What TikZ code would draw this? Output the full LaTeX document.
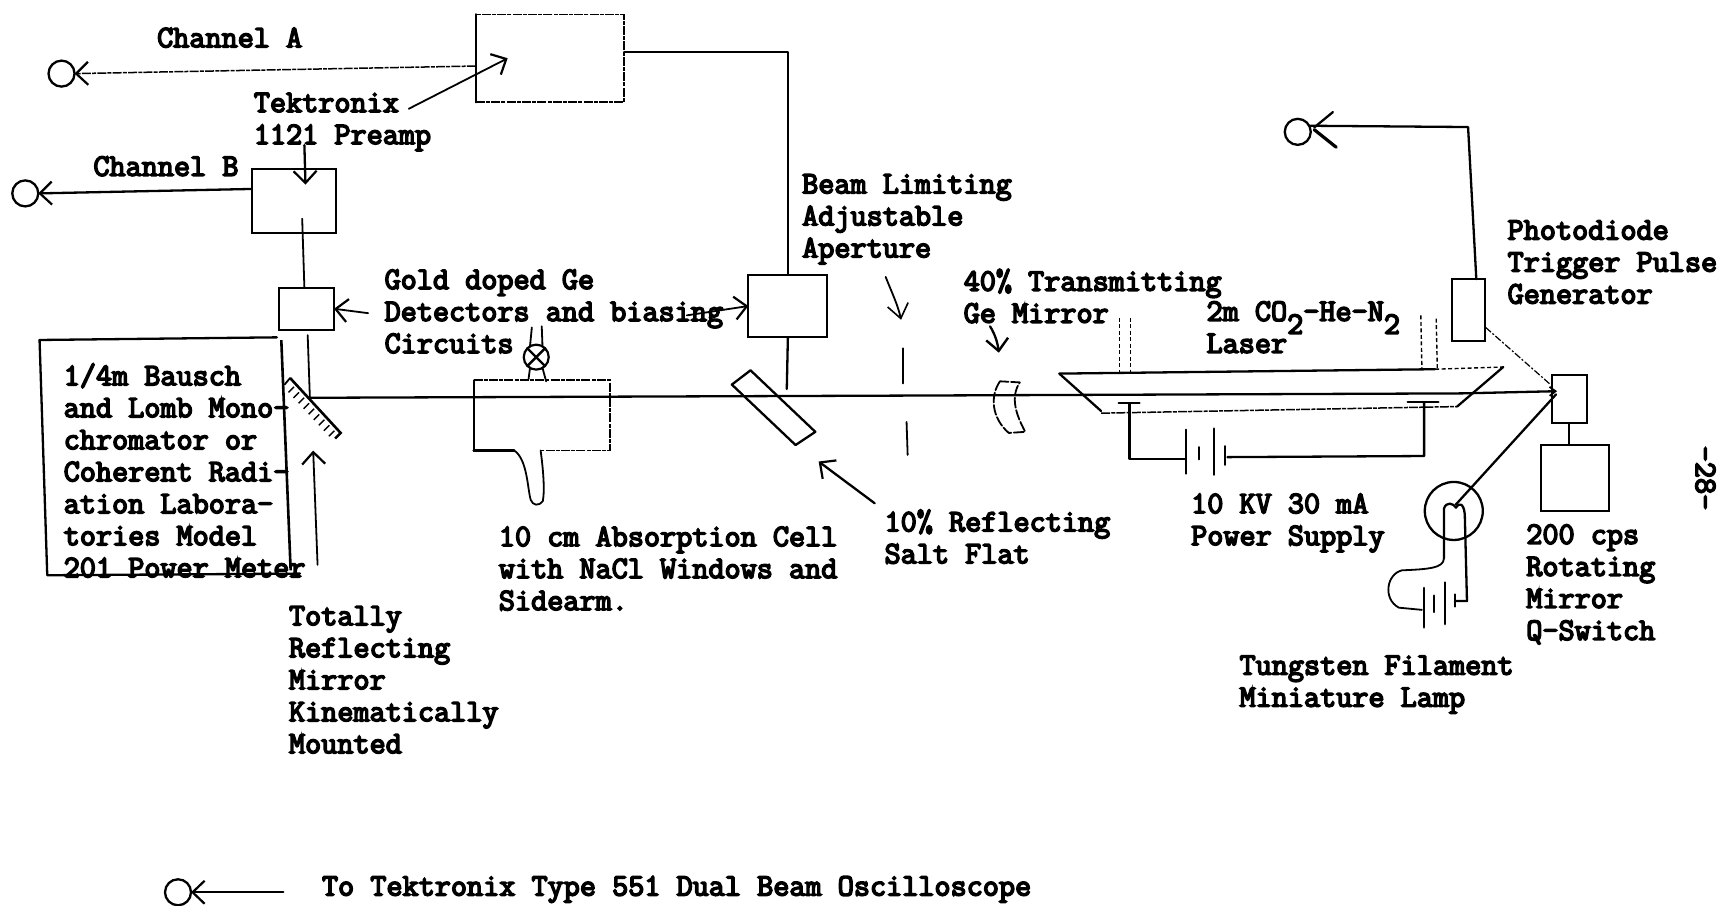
\documentclass[tikz,border=0pt]{standalone}
\usepackage{fontspec}
\setmonofont{Latin Modern Mono}[FakeBold=5]
\usetikzlibrary{arrows.meta}
\tikzset{
  x=1.0989pt,y=-1.0989pt,
  heavy/.style={line width=2.3pt,line cap=round,line join=round},
  med/.style={line width=1.8pt,line cap=round,line join=round},
  faint/.style={line width=1.5pt,dash pattern=on 9pt off 1.2pt on 4pt off 1.2pt},
  dotty/.style={line width=1.4pt,dash pattern=on 4pt off 2.5pt},
  barb/.style={-{Straight Barb[length=12pt,width=23pt,line width=2.2pt]}},
  lbl/.style={anchor=north west,inner sep=0pt,outer sep=0pt,align=left,font=\fontsize{31.3}{32}\ttfamily},
  terminal/.style={circle,draw,line width=2.3pt,minimum size=26pt,inner sep=0pt,outer sep=0pt},
  boxnode/.style={draw,anchor=north west,inner sep=0pt,outer sep=0pt,line width=2.1pt},
}
\newcommand{\tb}[4]{\node[lbl] (#1) at ({#2},{#3-18.2}) {\rule{0pt}{20pt}#4};}
\newcommand{\bx}[6]{\node[boxnode,#6,minimum width={(#4-#2)*1.0989pt},minimum height={(#5-#3)*1.0989pt}] (#1) at (#2,#3) {};}
\begin{document}
\begin{tikzpicture}
\useasboundingbox (0,0) rectangle (1568,824.5);
% text
\tb{chA}{143}{43}{Channel A}
\tb{tek}{231}{102}{Tektronix\\1121 Preamp}
\tb{chB}{85}{160}{Channel B}
\tb{gold}{350}{263}{Gold doped Ge\\Detectors and biasing\\Circuits}
\tb{beamlim}{730}{176}{Beam Limiting\\Adjustable\\Aperture}
\tb{trans}{877}{263}{40\% Transmitting\\Ge Mirror}
\tb{laser}{1098}{292}{2m CO\smash{\raisebox{-13pt}{2}}-He-N\smash{\raisebox{-13pt}{2}}\\Laser}
\tb{photo}{1372}{218}{Photodiode\\Trigger Pulse\\Generator}
\tb{mono}{58}{349}{1/4m Bausch\\and Lomb Mono-\\chromator or\\Coherent Radi-\\ation Labora-\\tories Model\\201 Power Meter}
\tb{absorb}{454}{497}{10 cm Absorption Cell\\with NaCl Windows and\\Sidearm.}
\tb{salt}{805}{482}{10\% Reflecting\\Salt Flat}
\tb{power}{1084}{467}{10 KV 30 mA\\Power Supply}
\tb{rot}{1389}{495}{200 cps\\Rotating\\Mirror\\Q-Switch}
\tb{tung}{1128}{614}{Tungsten Filament\\Miniature Lamp}
\tb{total}{263}{569}{Totally\\Reflecting\\Mirror\\Kinematically\\Mounted}
\tb{legend}{293}{815}{To Tektronix Type 551 Dual Beam Oscilloscope}
\node[lbl,anchor=center,rotate=-90] (page) at (1552,435) {-28-};
% boxes
\bx{boxA}{433}{13}{568}{93}{faint}
\bx{boxB}{229}{154}{306}{212}{}
\bx{detA}{254}{262}{304}{300}{}
\bx{detB}{681}{250}{753}{307}{}
\bx{photoBox}{1321}{254}{1351}{310}{}
\bx{qswitch}{1412}{341}{1444}{385}{}
\bx{motor}{1402}{405}{1464}{465}{}
\draw[heavy] (boxA.north west) -- (boxA.south west);
% terminals
\node[terminal] (scopeA) at (56,67) {};
\node[terminal] (scopeB) at (23,176) {};
\node[terminal] (scopeT) at (1181,120) {};
\node[terminal] (scopeL) at (162,812) {};
% named free ends
\coordinate (a1) at (372,99); \coordinate (a2) at (462,53);
\coordinate (b1) at (277,132); \coordinate (b2) at (278,168);
\coordinate (c1) at (275,199);
\coordinate (d1) at (335,285);
\coordinate (e1) at (625,287);
\coordinate (f1) at (282,362);
\coordinate (saltTop) at (716,354);
\coordinate (tubeL) at (1028,367); \coordinate (tubeR) at (1296,366);
\coordinate (g1) at (289,514); \coordinate (g2) at (285,410);
\coordinate (s1) at (796,458); \coordinate (s2) at (745,420);
% connectors
\draw[faint,barb] (boxA.186) -- (scopeA.east);
\draw[heavy] (boxA.5) -| (detB.north);
\draw[heavy] (detB.south) -- (saltTop);
\draw[heavy,barb] (boxB.164) -- (scopeB.east);
\draw[med] (c1) -- (detA.96);
\draw[med] (280,305) -- (f1);
\draw[med,barb] (a1) -- (a2);
\draw[heavy,barb] (b1) -- (b2);
\draw[med,barb] (d1) -- (detA.east);
\draw[med,barb] (e1) -- (detB.west);
\draw[med,barb] (g1) -- (g2);
\draw[heavy,barb] (s1) -- (s2);
\draw[heavy] (photoBox.75) -- (1336,115.6) -- (scopeT.28);
\draw[heavy] (1196,116) -- (1213,102);
\draw[line width=3.2pt,line cap=round] (1196,118) -- (1216,134);
\draw[med,barb] (258,812) -- (scopeL.east);
\draw[heavy] (qswitch.south) -- (qswitch.south |- motor.north);
\draw[line width=1.2pt,dash pattern=on 7pt off 2pt on 2pt off 2pt] (1352,298) -- (1411,350);
% beam
\draw[heavy,-{Straight Barb[length=6pt,width=9pt,line width=1.8pt]}] (f1) -- (825,360) -- (1330,358) -- (1417,356);
% lamp ray
\draw[heavy] (1416,359) -- (1325,459);
% monochromator box
\draw[heavy] (36,309.4) -- (252,307);
\draw[heavy] (36,309.4) -- (43,523.5) -- (273,522);
\draw[line width=2.6pt] (256,309.5) -- (264.5,519);
% totally reflecting mirror
\draw[line width=2.6pt] (264,344) -- (310,394) -- (305,399);
\draw[med] (264,344) -- (259,350);
\foreach \t in {0.12,0.22,...,0.95} {
  \draw[line width=1.4pt] ({264+46*\t-2},{344+50*\t+2}) -- ({264+46*\t-7},{344+50*\t+7});
}
% absorption cell
\draw[med] (431,410) -- (431,346);
\draw[faint] (431,346) -- (555,346) -- (555,410) -- (492,410);
\draw[heavy] (431,410) -- (468,410);
\draw[med] (468,410) .. controls (480,418) and (480,445) .. (483,455) .. controls (485,460) and (490,461) .. (494,456) .. controls (496,445) and (494,425) .. (492,410);
% cell detector lamp
\node[circle,draw,line width=2.2pt,minimum size=25pt,inner sep=0pt,outer sep=0pt] (xlamp) at (488,325) {};
\draw[heavy] (xlamp.45) -- (xlamp.225) (xlamp.135) -- (xlamp.315);
\draw[med] (484,298) -- (xlamp.120) (493,297) -- (xlamp.60);
\draw[med] (xlamp.240) -- (481,345) (xlamp.300) -- (497,347);
% salt flat
\draw[heavy] (666,350) -- (683,337) -- (742,393) -- (724,405) -- cycle;
% aperture
\draw[med] (822,317) -- (822,349);
\draw[med] (825,384) -- (826,414);
\coordinate (apA) at (806,252); \coordinate (apB) at (820,291);
\draw[med,-{Straight Barb[length=14pt,width=21pt,line width=1.6pt]}] (apA) .. controls (811,265) and (817,277) .. (apB);
% Ge mirror
\coordinate (miA) at (901,297); \coordinate (miB) at (909,321);
\draw[heavy,-{Straight Barb[length=12pt,width=22pt,line width=2.4pt]}] (miA) .. controls (906,305) and (908,313) .. (miB);
\draw[med,dash pattern=on 10pt off 2.5pt] (910,347) .. controls (901,360) and (902,380) .. (918,394) -- (933,393) .. controls (925,378) and (919,362) .. (928,348) -- cycle;
% laser tube
\draw[heavy] (964,340) -- (1306,336);
\draw[dotty] (1306,336) -- (1368,334);
\draw[heavy] (964,340) -- (1002,374);
\draw[faint] (1002,376) -- (1326,370);
\draw[heavy] (1326,370) -- (1368,334);
\draw[dotty] (1019,289) -- (1019,340) (1029,289) -- (1029,340);
\draw[dotty] (1293,287) -- (1294,336) (1307,290) -- (1308,336);
% electrodes and supply
\draw[heavy] (1018,367) -- (1037,367);
\draw[heavy] (1281,366) -- (1309,366);
\draw[heavy] (tubeL) -- (1028,418) -- (1079,418);
\draw[heavy] (tubeR) -- (1296,415) -- (1117,416);
\draw[heavy] (1079,391) -- (1079,431);
\draw[heavy] (1091,407) -- (1091,418);
\draw[heavy] (1105,390) -- (1105,432);
\draw[heavy] (1115,406) -- (1115,423);
% tungsten lamp
\node[circle,draw,line width=2.3pt,minimum size=58pt,inner sep=0pt,outer sep=0pt] (tlamp) at (1323,465) {};
\draw[heavy] (1314,508) -- (1314,463) .. controls (1316,456) and (1323,458) .. (1325,462) .. controls (1328,457) and (1332,458) .. (1333,468) -- (1335,547) -- (1324,547);
\draw[med] (1314,508) .. controls (1314,517) and (1300,518) .. (1276,519) .. controls (1262,522) and (1258,545) .. (1273,553) -- (1294,555);
\draw[heavy] (1296,535) -- (1296,571);
\draw[heavy] (1305,542) -- (1305,557);
\draw[heavy] (1315,530) -- (1315,568);
\draw[heavy] (1324,541) -- (1324,552);
\end{tikzpicture}
\end{document}
